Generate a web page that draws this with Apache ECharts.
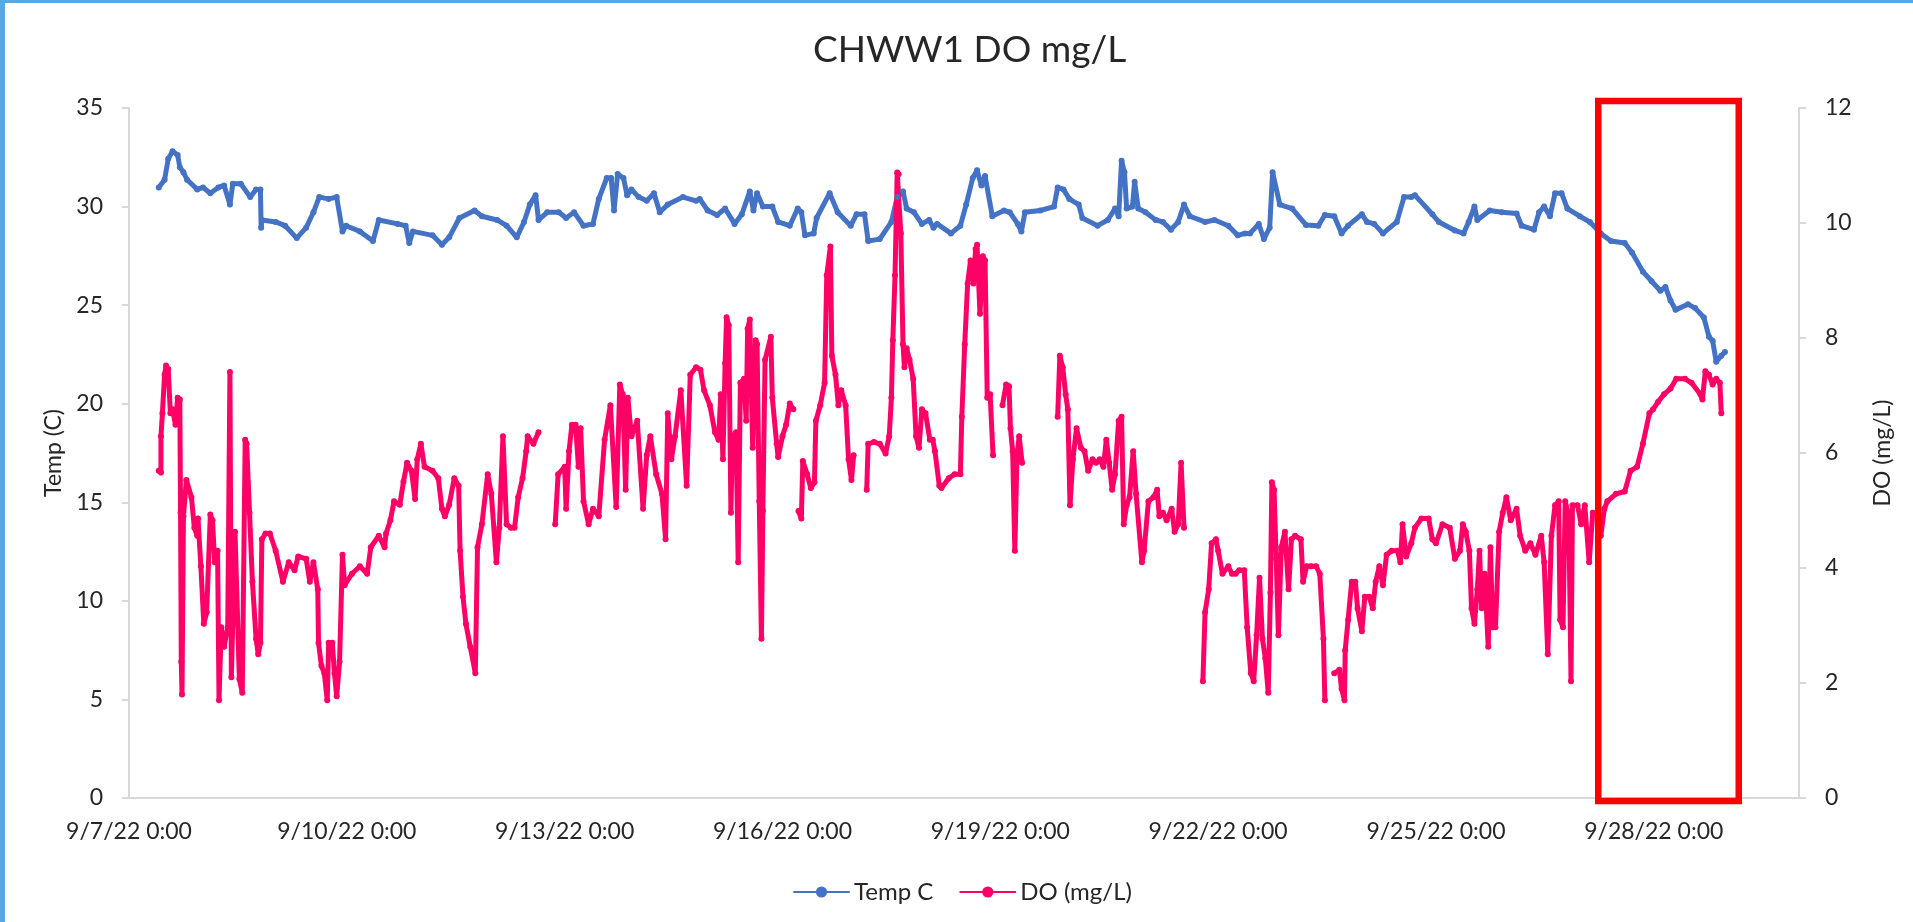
<!DOCTYPE html>
<html>
<head>
<meta charset="utf-8">
<title>CHWW1 DO mg/L</title>
<script src="https://cdn.jsdelivr.net/npm/echarts@6/dist/echarts.min.js"></script>
<style>
  html, body { margin: 0; padding: 0; background: #fff; }
  #chart { width: 1913px; height: 922px; }
  .edge { position: absolute; background: #5aa7e3; z-index: 5; }
</style>
</head>
<body>
<div id="chart"></div>
<div class="edge" style="left:0;top:0;width:5px;height:922px"></div>
<div class="edge" style="left:0;top:0;width:1913px;height:3px"></div>
<script>
// x values are days since 9/7/22 0:00
var xTickLabels = ['9/7/22 0:00', '9/10/22 0:00', '9/13/22 0:00', '9/16/22 0:00',
  '9/19/22 0:00', '9/22/22 0:00', '9/25/22 0:00', '9/28/22 0:00'];

var tempDay = [0.41,0.49,0.54,0.60,0.67,0.70,0.75,0.80,0.94,1.02,1.12,1.23,1.31,1.39,1.43,1.54,1.67,1.75,1.81,1.82,
  1.83,2.02,2.15,2.31,2.44,2.54,2.62,2.75,2.86,2.94,2.99,3.18,3.36,3.44,3.70,3.81,3.86,3.91,4.18,4.31,
  4.41,4.55,4.76,4.86,5.07,5.20,5.34,5.44,5.52,5.60,5.64,5.76,5.92,6.02,6.13,6.26,6.39,6.47,6.58,6.64,
  6.68,6.73,6.81,6.86,6.92,7.02,7.13,7.23,7.31,7.42,7.63,7.81,7.86,7.97,8.10,8.21,8.34,8.44,8.55,8.60,
  8.65,8.73,8.86,8.94,9.10,9.21,9.26,9.31,9.43,9.47,9.65,9.76,9.94,10.02,10.13,10.18,10.34,10.50,10.58,10.66,
  10.71,10.81,10.92,11.02,11.08,11.13,11.32,11.45,11.53,11.62,11.68,11.74,11.79,11.89,12.05,12.13,12.24,12.29,12.34,12.55,
  12.74,12.79,12.87,12.95,13.08,13.13,13.34,13.48,13.58,13.63,13.67,13.71,13.74,13.82,13.85,13.90,14.00,14.14,14.24,14.35,
  14.45,14.53,14.61,14.82,14.95,15.14,15.27,15.37,15.44,15.56,15.63,15.71,15.75,15.85,16.02,16.21,16.38,16.47,16.60,16.70,
  16.79,16.98,17.05,17.15,17.27,17.46,17.56,17.66,17.71,17.95,18.04,18.26,18.38,18.45,18.53,18.57,18.74,18.91,19.11,19.18,
  19.35,19.42,19.49,19.57,19.64,19.73,19.81,19.98,20.12,20.27,20.41,20.60,20.70,20.85,20.97,21.09,21.16,21.23,21.30,21.47,
  21.57,21.69,21.76,21.81,21.86,21.93,21.98];
var tempC = [30.97,31.36,32.42,32.81,32.62,32.0,31.74,31.36,30.87,30.97,30.68,30.97,31.07,30.1,31.16,31.16,30.48,30.87,30.87,28.93,
  29.32,29.22,29.03,28.4,28.93,29.71,30.48,30.39,30.48,28.74,29.03,28.74,28.25,29.32,29.12,29.03,28.15,28.74,28.54,28.06,
  28.44,29.42,29.8,29.51,29.32,29.03,28.44,29.22,30.1,30.58,29.32,29.71,29.71,29.42,29.71,29.03,29.12,30.39,31.45,31.45,
  29.8,31.65,31.45,30.58,30.87,30.48,30.29,30.68,29.71,30.1,30.48,30.29,30.39,29.8,29.57,29.9,29.12,29.61,30.77,29.8,
  30.68,30.0,30.0,29.22,29.03,29.9,29.71,28.54,28.64,29.42,30.68,29.71,29.03,29.61,29.61,28.25,28.35,29.22,30.48,30.77,
  29.9,29.71,29.12,29.32,28.93,29.12,28.64,29.03,30.1,31.45,31.84,31.07,31.55,29.51,29.8,29.71,29.12,28.74,29.71,29.8,
  30.0,30.97,30.87,30.39,30.1,29.42,29.03,29.32,29.9,29.51,32.33,31.74,29.9,30.0,31.26,29.9,29.71,29.32,29.22,28.83,
  29.22,30.1,29.51,29.22,29.32,29.03,28.54,28.64,28.64,29.12,28.35,28.93,31.74,30.1,29.9,29.07,29.03,29.57,29.51,28.64,
  29.03,29.61,29.22,29.12,28.64,29.22,30.48,30.48,30.58,29.61,29.22,28.79,28.64,29.22,30.0,29.32,29.8,29.71,29.65,29.03,
  28.83,29.71,30.0,29.51,30.68,30.68,29.9,29.51,29.22,28.64,28.25,28.15,27.67,26.7,26.21,25.73,25.92,25.24,24.76,25.05,
  24.85,24.37,23.4,23.2,22.13,22.43,22.62];

// null = no reading (line breaks)
var doDay = [0.41,0.44,0.44,0.46,0.49,0.51,0.54,0.57,0.60,0.64,0.67,0.70,0.71,0.72,0.73,0.75,0.79,0.86,0.90,0.94,
  0.95,0.99,1.03,1.07,1.12,1.15,1.18,1.22,1.24,1.27,1.31,1.36,1.39,1.41,1.46,1.52,1.56,1.60,1.62,1.66,
  1.70,1.75,1.78,1.81,1.83,1.88,1.94,2.02,2.12,2.20,2.28,2.33,2.44,2.49,2.54,2.60,2.61,2.65,2.69,2.73,
  2.75,2.80,2.83,2.86,2.90,2.94,2.97,3.07,3.18,3.28,3.33,3.44,3.52,3.54,3.60,3.65,3.73,3.78,3.83,3.89,
  3.94,3.97,4.02,4.07,4.18,4.26,4.31,4.35,4.41,4.48,4.54,4.56,4.60,4.64,4.70,4.77,4.80,4.86,4.94,4.99,
  5.06,5.10,5.15,5.20,5.26,5.31,5.36,5.42,5.47,5.49,5.57,5.64,5.75,5.87,5.91,6.00,6.02,6.06,6.10,6.15,
  6.19,6.22,6.26,6.33,6.39,6.47,6.55,6.63,6.71,6.76,6.80,6.84,6.87,6.92,7.00,7.08,7.13,7.18,7.26,7.34,
  7.39,7.42,7.47,7.52,7.60,7.68,7.73,7.81,7.87,7.92,8.00,8.07,8.12,8.15,8.18,8.21,8.23,8.26,8.29,8.31,
  8.36,8.39,8.42,8.47,8.50,8.52,8.55,8.59,8.63,8.65,8.68,8.71,8.73,8.76,8.84,8.86,8.92,8.94,9.00,9.05,
  9.10,9.15,9.19,9.22,9.26,9.28,9.34,9.39,9.44,9.46,9.52,9.58,9.61,9.66,9.68,9.73,9.77,9.81,9.87,9.91,
  9.95,9.98,10.07,10.16,10.18,10.26,10.34,10.42,10.47,10.50,10.52,10.55,10.58,10.60,10.63,10.66,10.68,10.71,10.75,10.80,
  10.84,10.88,10.92,10.97,11.03,11.07,11.10,11.16,11.19,11.29,11.37,11.45,11.47,11.51,11.55,11.59,11.63,11.66,11.68,11.72,
  11.76,11.79,11.82,11.86,11.90,11.96,12.03,12.08,12.12,12.14,12.17,12.20,12.23,12.26,12.30,12.55,12.79,12.82,12.86,12.90,
  12.93,12.96,13.00,13.05,13.11,13.16,13.21,13.27,13.32,13.37,13.42,13.46,13.50,13.54,13.58,13.63,13.67,13.70,13.74,13.78,
  13.83,13.87,13.95,13.98,14.04,14.11,14.16,14.19,14.24,14.29,14.36,14.40,14.45,14.49,14.53,14.66,14.79,14.82,14.87,14.91,
  14.97,15.00,15.06,15.14,15.19,15.24,15.29,15.36,15.40,15.45,15.49,15.53,15.57,15.61,15.65,15.69,15.72,15.74,15.77,15.80,
  15.83,15.87,15.92,15.97,16.01,16.06,16.14,16.17,16.22,16.28,16.35,16.40,16.45,16.47,16.53,16.60,16.67,16.70,16.74,16.75,
  16.79,16.84,16.89,16.92,16.98,17.02,17.08,17.13,17.17,17.22,17.27,17.32,17.39,17.47,17.51,17.54,17.59,17.66,17.71,17.80,
  17.90,17.95,18.00,18.09,18.19,18.26,18.33,18.37,18.41,18.46,18.49,18.53,18.57,18.60,18.63,18.67,18.72,18.75,18.78,18.82,
  18.87,18.92,18.97,19.03,19.11,19.16,19.23,19.30,19.37,19.45,19.49,19.54,19.59,19.64,19.69,19.71,19.75,19.78,19.83,19.86,
  19.88,19.95,20.00,20.05,20.11,20.16,20.22,20.27,20.32,20.36,20.48,20.60,20.68,20.77,20.85,20.94,20.99,21.06,21.14,21.23,
  21.31,21.43,21.52,21.64,21.67,21.71,21.76,21.81,21.86,21.91,21.93];
var doMgL = [5.69,5.66,6.29,6.69,7.36,7.52,7.46,6.69,6.76,6.49,6.96,6.93,4.96,2.37,1.8,4.9,5.53,5.23,4.7,4.56,
  4.86,4.03,3.03,3.23,4.93,4.83,4.1,4.3,1.7,2.97,2.63,2.97,7.41,2.1,4.63,2.07,1.83,6.23,6.16,4.96,
  3.76,2.77,2.5,2.7,4.5,4.6,4.6,4.3,3.76,4.1,3.96,4.2,4.16,3.76,4.1,3.63,2.7,2.3,2.17,1.7,
  2.7,2.7,2.17,1.77,2.37,4.23,3.7,3.9,4.03,3.9,4.36,4.56,4.36,4.6,4.83,5.16,5.1,5.5,5.83,5.69,
  5.2,5.89,6.16,5.76,5.69,5.56,5.03,4.9,5.1,5.56,5.43,4.3,3.5,3.03,2.63,2.17,4.36,4.76,5.63,5.29,
  4.1,4.7,6.29,4.76,4.7,4.7,5.23,5.56,6.03,6.29,6.16,6.36,null,4.76,5.63,5.76,5.03,6.03,6.49,6.49,
  5.76,6.43,5.16,4.76,5.03,4.9,6.23,6.83,5.06,7.19,7.02,5.36,6.96,6.29,6.56,5.03,5.96,6.29,5.63,5.29,
  4.5,6.69,5.89,6.29,7.09,5.43,7.36,7.49,7.45,7.09,6.83,6.36,6.23,7.02,5.89,7.56,8.36,8.22,4.96,6.29,
  6.36,4.1,7.22,7.29,6.56,8.16,8.32,6.09,7.96,7.89,5.16,2.77,5.0,7.62,8.02,6.96,6.16,5.93,6.29,6.49,
  6.86,6.76,null,4.99,4.86,5.86,5.63,5.39,5.49,6.56,6.83,7.22,9.09,9.59,7.69,7.36,6.83,7.09,6.83,5.89,
  5.53,5.96,null,5.36,6.16,6.19,6.16,5.99,6.29,6.96,7.96,9.09,10.88,10.85,9.82,7.89,7.49,7.82,7.62,7.29,
  6.29,6.09,6.76,6.69,6.23,6.23,6.03,5.43,5.39,5.56,5.63,5.63,6.63,7.89,8.95,9.35,8.95,9.55,9.62,8.42,
  9.42,9.35,6.96,7.02,5.96,null,6.83,7.19,7.16,6.43,6.03,4.3,5.96,6.29,5.83,null,6.63,7.69,7.49,7.02,
  6.76,5.09,5.89,6.43,6.09,6.03,5.69,5.89,5.83,5.89,5.76,6.23,5.83,5.36,5.63,6.56,6.63,4.76,5.09,5.23,
  6.03,5.29,4.1,4.3,5.16,5.23,5.36,4.9,4.96,4.83,5.03,4.63,4.76,5.83,4.7,null,2.03,3.23,3.63,4.43,
  4.5,4.3,3.9,4.03,3.9,3.9,3.96,3.96,2.97,2.17,2.03,2.83,3.83,2.77,2.43,1.83,3.57,5.49,5.36,4.16,
  2.83,4.36,4.63,3.63,4.5,4.56,4.5,3.76,4.03,4.03,4.03,3.9,2.77,1.7,null,2.17,2.23,1.9,1.7,2.57,
  3.1,3.76,3.76,3.3,2.9,3.5,3.5,3.3,3.76,4.03,3.7,4.23,4.3,4.3,4.1,4.76,4.2,4.43,4.7,4.86,
  4.86,4.5,4.43,4.76,4.7,4.16,4.3,4.76,4.63,4.3,3.3,3.03,3.63,4.3,3.3,3.9,2.63,4.36,2.97,2.97,
  4.63,4.96,5.23,4.83,5.03,4.56,4.3,4.43,4.23,4.56,4.1,2.5,4.56,5.09,5.16,3.1,2.97,5.16,4.9,2.03,
  5.09,5.09,4.76,5.09,4.1,4.96,4.96,4.56,5.03,5.16,5.29,5.33,5.69,5.76,6.16,6.69,6.76,6.89,7.02,7.12,
  7.29,7.29,7.22,7.02,6.93,7.42,7.36,7.19,7.29,7.22,6.69];

// red annotation box: day range and DO range
var boxDays = [20.235, 22.17];
var boxDO = [-0.05, 12.12];

var chart = echarts.init(document.getElementById('chart'));
var font = 'Lato, "Open Sans", sans-serif';
var textColor = '#262626';

function pairs(xs, ys) {
  return xs.map(function(x, i) {
    return [x, ys[i] == null ? '-' : ys[i]];
  });
}

chart.setOption({
  animation: false,
  backgroundColor: '#fff',
  title: {
    text: 'CHWW1 DO mg/L',
    left: 808,
    top: 27,
    textStyle: { fontFamily: font, fontSize: 37, fontWeight: 'normal', color: textColor }
  },
  legend: {
    data: ['Temp C', 'DO (mg/L)'],
    left: 788,
    top: 875,
    itemWidth: 55,
    itemHeight: 14,
    itemGap: 26,
    textStyle: { fontFamily: font, fontSize: 24, color: textColor }
  },
  grid: { left: 129, right: 114, top: 108, bottom: 124 },
  xAxis: {
    type: 'value',
    min: 0,
    max: 23,
    interval: 3,
    axisLine: { lineStyle: { color: '#d9d9d9', width: 2 } },
    axisTick: { show: false },
    splitLine: { show: false },
    axisLabel: {
      margin: 22,
      fontFamily: font,
      fontSize: 23,
      color: textColor,
      formatter: function(v) {
        var k = Math.round(v);
        return (k % 3 === 0 && xTickLabels[k / 3]) ? xTickLabels[k / 3] : '';
      }
    }
  },
  yAxis: [{
    type: 'value',
    min: 0,
    max: 35,
    interval: 5,
    name: 'Temp (C)',
    nameLocation: 'middle',
    nameRotate: 90,
    nameGap: 62,
    nameTextStyle: { fontFamily: font, fontSize: 23, color: textColor },
    axisLine: { show: true, lineStyle: { color: '#d9d9d9', width: 2 } },
    axisTick: { show: true, length: 7, lineStyle: { color: '#d9d9d9', width: 2 } },
    splitLine: { show: false },
    axisLabel: { margin: 26, fontFamily: font, fontSize: 23, color: textColor }
  }, {
    type: 'value',
    min: 0,
    max: 12,
    interval: 2,
    position: 'right',
    name: 'DO (mg/L)',
    nameLocation: 'middle',
    nameRotate: 90,
    nameGap: 72,
    nameTextStyle: { fontFamily: font, fontSize: 23, color: textColor },
    axisLine: { show: true, lineStyle: { color: '#d9d9d9', width: 2 } },
    axisTick: { show: true, length: 7, lineStyle: { color: '#d9d9d9', width: 2 } },
    splitLine: { show: false },
    axisLabel: { margin: 26, fontFamily: font, fontSize: 23, color: textColor }
  }],
  series: [{
    name: 'Temp C',
    type: 'line',
    yAxisIndex: 0,
    data: pairs(tempDay, tempC),
    symbol: 'circle',
    symbolSize: 6,
    showAllSymbol: true,
    lineStyle: { width: 5, color: '#4472C4', join: 'round', cap: 'round' },
    itemStyle: { color: '#4472C4' }
  }, {
    name: 'DO (mg/L)',
    type: 'line',
    yAxisIndex: 1,
    data: pairs(doDay, doMgL),
    symbol: 'circle',
    symbolSize: 6,
    showAllSymbol: true,
    lineStyle: { width: 5, color: '#FF0066', join: 'round', cap: 'round' },
    itemStyle: { color: '#FF0066' }
  }]
});

// red box drawn from data coordinates
var p1 = chart.convertToPixel({ xAxisIndex: 0, yAxisIndex: 1 }, [boxDays[0], boxDO[1]]);
var p2 = chart.convertToPixel({ xAxisIndex: 0, yAxisIndex: 1 }, [boxDays[1], boxDO[0]]);
chart.setOption({
  graphic: [{
    type: 'rect',
    z: 100,
    shape: { x: p1[0], y: p1[1], width: p2[0] - p1[0], height: p2[1] - p1[1] },
    style: { fill: 'none', stroke: '#FF0000', lineWidth: 6.5 }
  }]
});
</script>
</body>
</html>
